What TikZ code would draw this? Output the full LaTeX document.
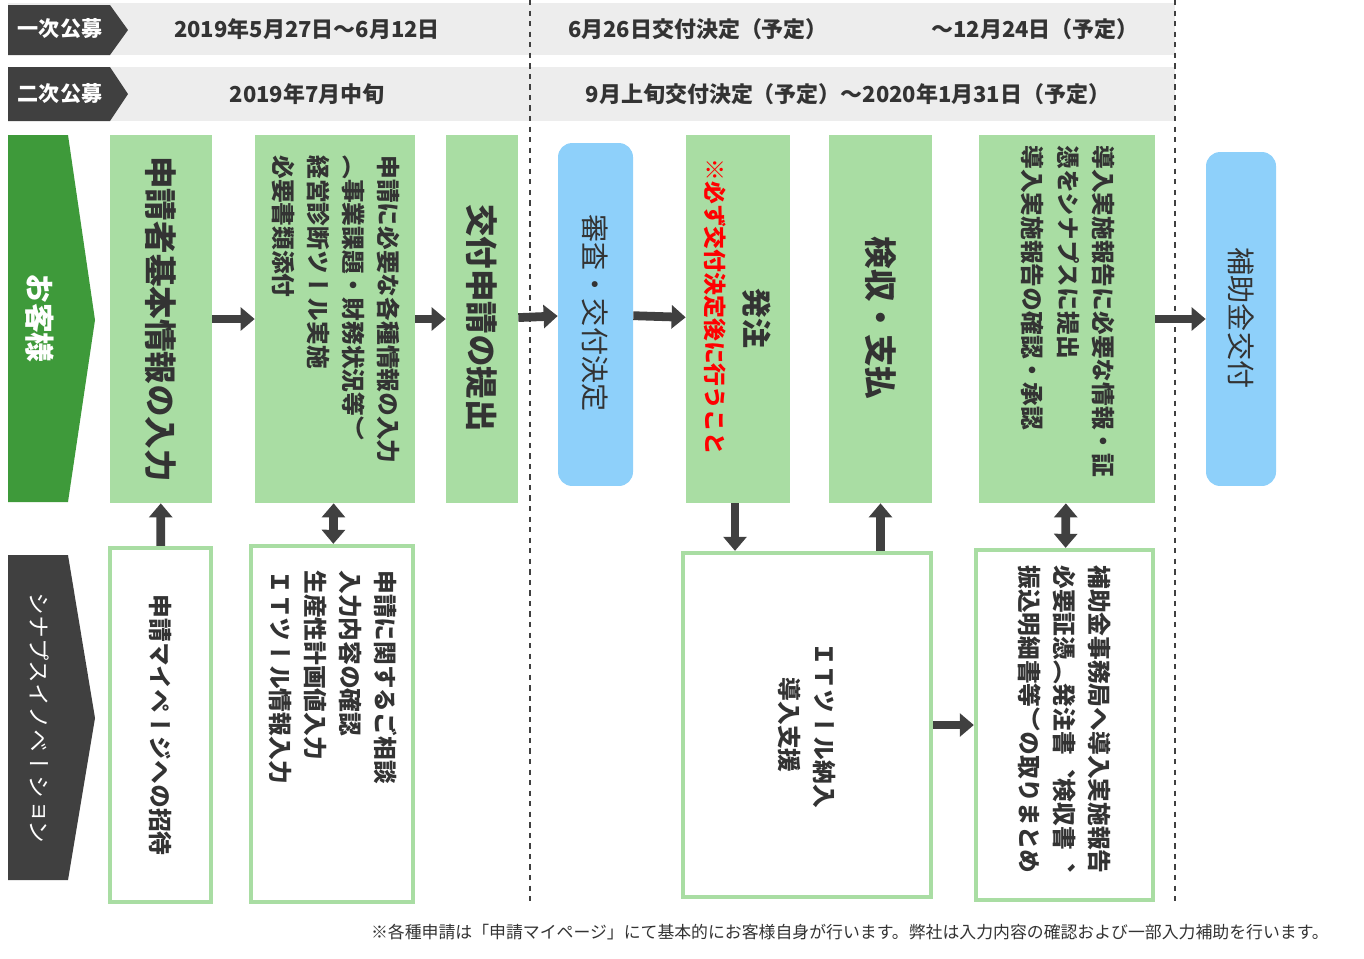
\documentclass[tikz,border=0pt]{standalone}
\usepackage{fontspec}
\usetikzlibrary{arrows.meta,calc}
\newfontfamily\jp{Noto Sans CJK JP}
\newfontfamily\vjp[Vertical=RotatedGlyphs]{Noto Sans CJK JP}
\definecolor{lgreen}{HTML}{A9DDA3}
\definecolor{dgreen}{HTML}{3E9A3A}
\definecolor{dgray}{HTML}{404040}
\definecolor{lgray}{HTML}{EDEDED}
\definecolor{lblue}{HTML}{8ED0FA}
\definecolor{txt}{HTML}{333333}
\tikzset{
  gbox/.style={fill=lgreen,inner sep=0pt},
  bbox/.style={fill=lblue,rounded corners=8pt,inner sep=0pt},
  wbox/.style={draw=lgreen,line width=2.5pt,fill=white,inner sep=0pt},
  vt/.style={rotate=-90,inner sep=0pt,text=txt,align=left},
  flow/.style={draw=dgray,line width=5pt,-{Triangle[length=8pt,width=13pt]}},
  flowb/.style={draw=dgray,line width=5pt,{Triangle[length=8pt,width=13pt]}-{Triangle[length=8pt,width=13pt]}},
}
\newcommand{\vfs}[2]{\vjp\fontsize{#1}{#2}\selectfont}
\begin{document}
\begin{tikzpicture}[x=0.02cm,y=-0.02cm]
\useasboundingbox (0,0) rectangle (1364,958);
% period bands
\fill[lgray] (8,3) rectangle (1175,55);
\fill[lgray] (8,67) rectangle (1175,121);
\fill[dgray] (8,5) -- (110,5) -- (128,30) -- (110,55) -- (8,55) -- cycle;
\fill[dgray] (8,67) -- (110,67) -- (128,94) -- (110,121) -- (8,121) -- cycle;
\node (p1) [text=white,font=\jp\fontsize{12pt}{14pt}\selectfont\bfseries] at (60,29) {一次公募};
\node (p2) [text=white,font=\jp\fontsize{12pt}{14pt}\selectfont\bfseries] at (60,94) {二次公募};
\begin{scope}[every node/.style={text=txt,font=\jp\fontsize{12.5pt}{15pt}\selectfont\bfseries}]
\node (d1) at (307,29) {2019年5月27日～6月12日};
\node (d2) at (698,29) {6月26日交付決定（予定）};
\node (d3) at (1035,29) {～12月24日（予定）};
\node (d4) at (307,94) {2019年7月中旬};
\node (d5) at (848,94) {9月上旬交付決定（予定）～2020年1月31日（予定）};
\end{scope}
\draw[dgray,dashed,thick] (530,0) -- (530,905);
\draw[dgray,dashed,thick] (1175,0) -- (1175,905);
% actors
\fill[dgreen] (8,135) -- (68,135) -- (95,320) -- (68,502) -- (8,502) -- cycle;
\fill[dgray] (8,555) -- (68,555) -- (95,718) -- (68,880) -- (8,880) -- cycle;
\node (cust) [vt,text=white,font=\vfs{17pt}{20pt}\bfseries] at (40,318) {お客様};
\node (syn) [vt,text=white,font=\vfs{13pt}{16pt}] at (40,718) {シナプスイノベーション};
% customer steps
\node (b1) [gbox,minimum width=2.04cm,minimum height=7.36cm] at (161,319) {};
\node (b2) [gbox,minimum width=3.2cm,minimum height=7.36cm] at (335,319) {};
\node (b3) [gbox,minimum width=1.44cm,minimum height=7.36cm] at (482,319) {};
\node (b4) [bbox,minimum width=1.5cm,minimum height=6.86cm] at (595.5,314.5) {};
\node (b5) [gbox,minimum width=2.08cm,minimum height=7.36cm] at (738,319) {};
\node (b6) [gbox,minimum width=2.06cm,minimum height=7.36cm] at (880.5,319) {};
\node (b7) [gbox,minimum width=3.52cm,minimum height=7.36cm] at (1067,319) {};
\node (b8) [bbox,minimum width=1.4cm,minimum height=6.68cm] at (1241,319) {};
\node (t1) [vt,font=\vfs{18.5pt}{22pt}\bfseries] at (161,319) {申請者基本情報の入力};
\node (t2) [vt,anchor=west,font=\vfs{13.5pt}{20pt}\bfseries] at (336,155)
  {申請に必要な各種情報の入力\\（事業課題・財務状況等）\\経営診断ツール実施\\必要書類添付};
\node (t3) [vt,font=\vfs{18.5pt}{22pt}\bfseries] at (482,318) {交付申請の提出};
\node (t4) [vt,font=\vfs{16pt}{20pt}] at (595.5,313) {審査・交付決定};
\node (t5) [vt,font=\vfs{17pt}{20pt}\bfseries] at (757,318) {発注};
\node (t5n) [vt,anchor=west,text=red,font=\vfs{13pt}{16pt}\bfseries] at (715,158) {※必ず交付決定後に行うこと};
\node (t6) [vt,font=\vfs{18.5pt}{22pt}\bfseries] at (880.5,318) {検収・支払};
\node (t7) [vt,anchor=west,font=\vfs{13.5pt}{20pt}\bfseries] at (1068,145)
  {導入実施報告に必要な情報・証\\憑をシナプスに提出\\導入実施報告の確認・承認};
\node (t8) [vt,font=\vfs{16pt}{20pt}] at (1241,318) {補助金交付};
% support steps
\node (s1) [wbox,minimum width=2.02cm,minimum height=7.08cm] at (160.5,725) {};
\node (s2) [wbox,minimum width=3.24cm,minimum height=7.12cm] at (332,724) {};
\node (s3) [wbox,minimum width=4.96cm,minimum height=6.88cm] at (807,725) {};
\node (s4) [wbox,minimum width=3.54cm,minimum height=7cm] at (1064.5,725) {};
\node (u1) [vt,font=\vfs{13.5pt}{20pt}\bfseries] at (160.5,725) {申請マイページへの招待};
\node (u2) [vt,anchor=west,font=\vfs{13.5pt}{20pt}\bfseries] at (333,570)
  {申請に関するご相談\\入力内容の確認\\生産性計画値入力\\ＩＴツール情報入力};
\node (u3) [vt,align=center,font=\vfs{13.5pt}{20pt}\bfseries] at (807,725) {ＩＴツール納入\\導入支援};
\node (u4) [vt,anchor=west,font=\vfs{13.5pt}{20pt}\bfseries] at (1064.5,565)
  {補助金事務局へ導入実施報告\\必要証憑（発注書、検収書、\\振込明細書等）の取りまとめ};
% connectors
\draw[flow] (b1) -- (b2);
\draw[flow] (b2) -- (b3);
\draw[flow] (b3) -- (b4);
\draw[flow] (b4) -- (b5);
\draw[flow] (b7) -- (b8);
\draw[flow] (s1) -- (b1);
\draw[flowb] (s2) -- (b2);
\draw[flow] ($(b5.south)+(-3,0)$) -- ($(b5.south |- s3.north)+(-3,0)$);
\draw[flow] (s3.north -| b6.south) -- (b6.south);
\draw[flowb] (s4) -- (b7);
\draw[flow] (s3) -- (s4);
\node (note) [anchor=east,text=txt,font=\jp\fontsize{9.6pt}{12pt}\selectfont] at (1335,932)
  {※各種申請は「申請マイページ」にて基本的にお客様自身が行います。弊社は入力内容の確認および一部入力補助を行います。};
\end{tikzpicture}
\end{document}
